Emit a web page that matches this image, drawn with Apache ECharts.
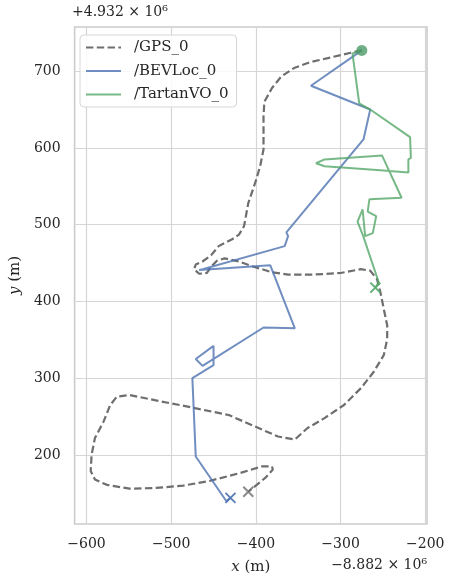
<!DOCTYPE html>
<html>
<head>
<meta charset="utf-8">
<script src="https://cdn.jsdelivr.net/npm/echarts@6/dist/echarts.min.js"></script>
<style>html,body{margin:0;padding:0;background:#fff;}#c{width:450px;height:580px;}</style>
</head>
<body>
<div id="c"></div>
<script>
// Offsets: x values are relative to -8.882e6, y values relative to +4.932e6
const xTicks = [-600, -500, -400, -300, -200];
const yTicks = [200, 300, 400, 500, 600, 700];
const seriesNames = ['/GPS_0', '/BEVLoc_0', '/TartanVO_0'];

const gpsX = [-275, -288, -311, -335, -355, -370, -381, -390, -391, -391, -391, -395, -401, -409, -414, -420, -428, -444, -453, -463, -471, -473, -467, -458, -453, -446, -437, -420, -405, -381, -362, -331, -300, -276, -265, -257, -253, -249, -245, -245, -249, -261, -276, -296, -319, -339, -354, -374, -401, -432, -459, -490, -518, -549, -564, -572, -580, -590, -594, -595, -590, -576, -549, -518, -486, -455, -420, -393, -381, -380, -389, -409];
const gpsY = [727, 724, 718, 712, 704, 693, 678, 660, 641, 623, 598, 576, 554, 528, 498, 487, 481, 472, 460, 452, 448, 442, 436, 437, 445, 453, 456, 452, 446, 438, 435, 435, 437, 442, 440, 429, 412, 390, 369, 351, 330, 308, 287, 265, 248, 235, 220, 224, 237, 252, 258, 265, 271, 278, 276, 265, 243, 222, 200, 179, 168, 161, 156, 157, 160, 166, 176, 185, 185, 181, 170, 152];

const bevX = [-275, -335, -265, -273, -364, -362, -366, -463, -467, -383, -354, -391, -463, -471, -450, -450, -475, -471, -435, -430];
const bevY = [727, 681, 650, 611, 490, 485, 472, 442, 441, 447, 365, 366, 316, 325, 342, 317, 300, 198, 140, 144];

const tartanX = [-275, -286, -278, -265, -218, -217, -220, -220, -253, -319, -329, -319, -251, -228, -266, -268, -258, -262, -271, -274, -280, -273, -255, -259];
const tartanY = [727, 723, 658, 650, 614, 587, 585, 568, 571, 576, 580, 585, 590, 535, 533, 517, 511, 489, 485, 520, 504, 484, 425, 418];

const colors = ['#6e6e6e', '#4c72b0', '#55a868'];
const serif = 'DejaVu Serif';

function pairs(xs, ys) { return xs.map((x, i) => [x, ys[i]]); }
function last(xs, ys) { return [xs[xs.length - 1], ys[ys.length - 1]]; }
function fmt(v) { return String(v).replace('-', '\u2212'); }

const chart = echarts.init(document.getElementById('c'), null, {renderer: 'canvas'});
const xMark = 'path://M0,0L10,10M10,0L0,10';

chart.setOption({
  animation: false,
  backgroundColor: '#ffffff',
  grid: {left: 71, right: 23, top: 27, bottom: 54, show: true, borderColor: '#cccccc', borderWidth: 1.6, backgroundColor: 'transparent'},
  xAxis: {
    type: 'value', min: -614, max: -198,
    axisLine: {show: false}, axisTick: {show: false, customValues: xTicks},
    axisLabel: {customValues: xTicks, formatter: fmt, fontFamily: serif, fontSize: 14, color: '#262626', margin: 13},
    splitLine: {show: true, lineStyle: {color: '#d6d6d6', width: 1.2}},
    name: '{i|x} (m)', nameLocation: 'middle', nameGap: 36,
    nameTextStyle: {fontFamily: serif, fontSize: 15, color: '#262626', rich: {i: {fontFamily: serif, fontStyle: 'italic', fontSize: 15, color: '#262626'}}}
  },
  yAxis: {
    type: 'value', min: 110, max: 757.5,
    axisLine: {show: false}, axisTick: {show: false, customValues: yTicks},
    axisLabel: {customValues: yTicks, formatter: fmt, fontFamily: serif, fontSize: 14, color: '#262626', margin: 14},
    splitLine: {show: true, lineStyle: {color: '#d6d6d6', width: 1.2}},
    name: '{i|y} (m)', nameLocation: 'middle', nameGap: 47, nameRotate: 90,
    nameTextStyle: {fontFamily: serif, fontSize: 15, color: '#262626', rich: {i: {fontFamily: serif, fontStyle: 'italic', fontSize: 15, color: '#262626'}}}
  },
  legend: {
    data: seriesNames, orient: 'vertical', left: 80, top: 35,
    itemWidth: 35, itemHeight: 14, itemGap: 8.5,
    padding: [5, 8, 5, 5],
    itemStyle: {color: 'transparent', borderWidth: 0, opacity: 0},
    backgroundColor: 'rgba(255,255,255,0.85)', borderColor: '#d6d6d6', borderWidth: 1, borderRadius: 4,
    textStyle: {fontFamily: serif, fontSize: 15, color: '#262626', padding: [0, 0, 0, 8]}
  },
  graphic: [
    {type: 'text', left: 72, top: 5, style: {text: '+4.932 \u00d7 10\u2076', font: '14px "DejaVu Serif"', fill: '#262626'}},
    {type: 'text', right: 23, top: 558, style: {text: '\u22128.882 \u00d7 10\u2076', font: '14px "DejaVu Serif"', fill: '#262626'}}
  ],
  series: [
    {name: seriesNames[0], type: 'line', data: pairs(gpsX, gpsY), symbol: 'none', smooth: false, color: colors[0],
     lineStyle: {color: colors[0], width: 2.2, type: [7.4, 3.4]}, z: 2},
    {name: seriesNames[1], type: 'line', data: pairs(bevX, bevY), symbol: 'none', smooth: false, color: colors[1],
     lineStyle: {color: colors[1], width: 2, opacity: 0.8}, z: 3},
    {name: seriesNames[2], type: 'line', data: pairs(tartanX, tartanY), symbol: 'none', smooth: false, color: colors[2],
     lineStyle: {color: colors[2], width: 2, opacity: 0.8}, z: 4},
    {type: 'scatter', data: [last(gpsX, gpsY)], symbol: xMark, symbolSize: 10, z: 5,
     itemStyle: {color: 'transparent', borderColor: colors[0], borderWidth: 2}},
    {type: 'scatter', data: [last(bevX, bevY)], symbol: xMark, symbolSize: 10, z: 5,
     itemStyle: {color: 'transparent', borderColor: colors[1], borderWidth: 2, opacity: 0.9}},
    {type: 'scatter', data: [last(tartanX, tartanY)], symbol: xMark, symbolSize: 10, z: 5,
     itemStyle: {color: 'transparent', borderColor: colors[2], borderWidth: 2, opacity: 0.9}},
    {type: 'scatter', data: [[tartanX[0], tartanY[0]]], symbol: 'circle', symbolSize: 11, z: 6,
     itemStyle: {color: '#4c9a68'}}
  ]
});
</script>
</body>
</html>
